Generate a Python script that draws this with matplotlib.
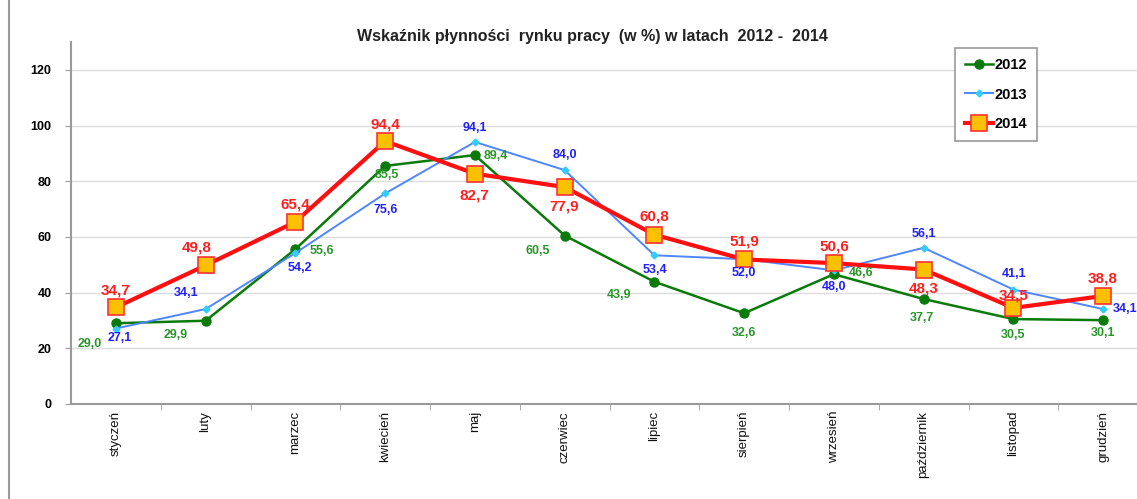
import matplotlib
matplotlib.use("Agg")
import matplotlib.pyplot as plt
from matplotlib.patches import Rectangle

plt.rcParams['font.family'] = ['Liberation Sans', 'DejaVu Sans']

months = ['styczeń', 'luty', 'marzec', 'kwiecień', 'maj', 'czerwiec',
          'lipiec', 'sierpień', 'wrzesień', 'październik', 'listopad', 'grudzień']
y2012 = [29.0, 29.9, 55.6, 85.5, 89.4, 60.5, 43.9, 32.6, 46.6, 37.7, 30.5, 30.1]
y2013 = [27.1, 34.1, 54.2, 75.6, 94.1, 84.0, 53.4, 52.0, 48.0, 56.1, 41.1, 34.1]
y2014 = [34.7, 49.8, 65.4, 94.4, 82.7, 77.9, 60.8, 51.9, 50.6, 48.3, 34.5, 38.8]
yticks = [0, 20, 40, 60, 80, 100, 120]

# label offsets in pixels (dx, dy), dy positive = up
off2012 = [(-26, -21), (-30, -14), (27, -2), (2, -9), (21, -1), (-27, -15),
           (-35, -13), (0, -20), (27, 1), (-2, -19), (0, -16), (0, -13)]
off2013 = [(4, -9), (-20, 16), (5, -15), (1, -17), (0, 14), (0, 15),
           (1, -15), (0, -14), (0, -17), (0, 14), (1, 16), (22, 0)]
off2014 = [(0, 17), (-9, 18), (0, 17), (0, 17), (0, -22), (0, -19),
           (0, 18), (0, 18), (0, 17), (0, -19), (0, 12), (0, 17)]

fig = plt.figure(figsize=(11.37, 4.99), dpi=100)
# outer chart frame
fig.patches.append(Rectangle((9/1137, -0.2), 1.2, 1.2 + (1 - 13/499), transform=fig.transFigure,
                             fill=False, edgecolor='#9a9a9a', linewidth=1.5))

ax = fig.add_axes([71/1137, 1 - 404/499, 1077/1137, 362/499])
x = list(range(len(months)))

ax.plot(x, y2012, color='#0a7a0a', lw=1.8, marker='o', ms=6.5, mfc='#0a7a0a', mec='#0a7a0a',
        label='2012', zorder=3)
ax.plot(x, y2013, color='#4f86ff', lw=1.4, marker='D', ms=3.5, mfc='#33ccff', mec='#33ccff',
        label='2013', zorder=4)
ax.plot(x, y2014, color='#ff0f0f', lw=3, marker='s', ms=11, mfc='#ffc000', mec='#ff3030', mew=1.2,
        label='2014', zorder=5)

for i in x:
    ax.annotate(f"{y2012[i]:.1f}".replace('.', ','), (i, y2012[i]), xytext=off2012[i],
                textcoords='offset pixels', ha='center', va='center', color='#2a962a',
                fontsize=9, fontweight='bold', zorder=6)
    ax.annotate(f"{y2013[i]:.1f}".replace('.', ','), (i, y2013[i]), xytext=off2013[i],
                textcoords='offset pixels', ha='center', va='center', color='#2020ff',
                fontsize=9, fontweight='bold', zorder=6)
    ax.annotate(f"{y2014[i]:.1f}".replace('.', ','), (i, y2014[i]), xytext=off2014[i],
                textcoords='offset pixels', ha='center', va='center', color='#ff2020',
                fontsize=11, fontweight='bold', zorder=6)

ax.set_xlim(-0.5, len(months) - 0.5)
ax.set_ylim(0, 130)
ax.set_yticks(yticks)
ax.set_yticklabels([str(v) for v in yticks], fontsize=9, fontweight='bold')
ax.set_xticks(x)
ax.set_xticklabels(months, rotation=90, fontsize=9.5, color='#111111')
ax.set_xticks([i + 0.5 for i in x[:-1]], minor=True)
ax.tick_params(axis='x', which='major', length=0, pad=5)
ax.tick_params(axis='x', which='minor', length=4, color='#9a9a9a')
ax.tick_params(axis='y', length=4, color='#9a9a9a', pad=10)
ax.grid(axis='y', color='#dcdcdc', lw=1)
ax.set_axisbelow(True)
for s in ['top', 'right']:
    ax.spines[s].set_visible(False)
for s in ['left', 'bottom']:
    ax.spines[s].set_color('#9a9a9a')
    ax.spines[s].set_linewidth(1.5)

fig.text(592/1137, 1 - 36/499, 'Wskaźnik płynności  rynku pracy  (w %) w latach  2012 -  2014',
         ha='center', va='center', fontsize=11.5, fontweight='bold', color='#222222')

leg = ax.legend(loc='upper left', bbox_to_anchor=(955/1137, 1 - 48/499), bbox_transform=fig.transFigure,
                fancybox=False, framealpha=1, edgecolor='#9a9a9a', handlelength=1.9,
                handletextpad=0.1, labelspacing=1.05, borderpad=0.7, borderaxespad=0,
                prop={'size': 10.5, 'weight': 'bold'})
leg.get_frame().set_linewidth(1.2)

fig.savefig('out.png', dpi=100)
